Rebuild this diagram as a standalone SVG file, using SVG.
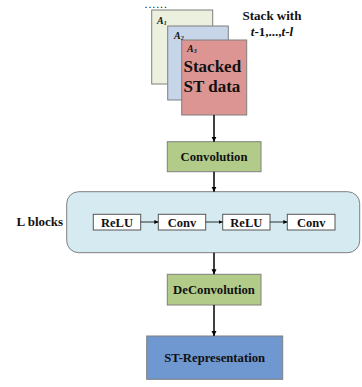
<svg xmlns="http://www.w3.org/2000/svg" width="362" height="387" viewBox="0 0 362 387">
<defs>
<style>
text{font-family:"Liberation Serif","Times New Roman",serif;font-weight:bold;fill:#111;}
.c{text-anchor:middle;}
.box{stroke:#7f7f7f;stroke-width:1;}
.small{fill:#fff;stroke:#555;stroke-width:1;}
.edge{stroke:#000;stroke-width:1.5;fill:none;}
.thin{stroke:#000;stroke-width:0.8;fill:none;}
</style>
<marker id="ah" viewBox="0 0 10 10" refX="10" refY="5" markerWidth="5" markerHeight="6" markerUnits="userSpaceOnUse" orient="auto"><path d="M0,0 L10,5 L0,10 z" fill="#000"/></marker>
<marker id="ahs" viewBox="0 0 10 10" refX="10" refY="5" markerWidth="4" markerHeight="4" markerUnits="userSpaceOnUse" orient="auto"><path d="M0,0 L10,5 L0,10 z" fill="#000"/></marker>
</defs>
<rect width="362" height="387" fill="#fff"/>
<g id="dots"><text x="145" y="7.5" font-size="8" letter-spacing="1.9">......</text></g>
<g id="stack">
<rect x="151.7" y="10" width="61" height="74" fill="#ebf1de" class="box"/>
<text x="157" y="24" font-size="10" font-style="italic">A<tspan font-size="6" dy="1">1</tspan></text>
<rect x="167.7" y="26" width="60.6" height="74" fill="#c6d5e8" class="box"/>
<text x="174" y="39" font-size="10" font-style="italic">A<tspan font-size="6" dy="1">2</tspan></text>
<rect x="181.7" y="40" width="65" height="75" fill="#dc9593" class="box"/>
<text x="187" y="52" font-size="10" font-style="italic">A<tspan font-size="6" dy="1">3</tspan></text>
<text x="183.5" y="72" font-size="17">Stacked</text>
<text x="183.5" y="92" font-size="17">ST data</text>
</g>
<g id="stack-label">
<text x="272" y="20" class="c" font-size="13">Stack with</text>
<text x="272" y="36" class="c" font-size="13"><tspan font-style="italic">t</tspan>-1,...,<tspan font-style="italic">t</tspan>-<tspan font-style="italic">l</tspan></text>
</g>
<g id="convolution">
<rect x="167.3" y="141.7" width="93.7" height="30" fill="#b3cb88" class="box"/>
<text x="214" y="161" class="c" font-size="12.7">Convolution</text>
</g>
<g id="lblocks">
<rect x="66.7" y="191.7" width="293" height="61" rx="12" ry="12" fill="#d6ebf1" class="box"/>
<text x="16.5" y="225.5" font-size="13">L blocks</text>
</g>
<g id="relu1"><rect x="93.3" y="214.3" width="47.4" height="15.7" class="small"/><text x="117" y="226.5" class="c" font-size="12.5">ReLU</text></g>
<g id="conv1"><rect x="158.3" y="214.3" width="47.4" height="15.7" class="small"/><text x="182" y="226.5" class="c" font-size="12.5">Conv</text></g>
<g id="relu2"><rect x="222.7" y="214.3" width="47.3" height="15.7" class="small"/><text x="246.3" y="226.5" class="c" font-size="12.5">ReLU</text></g>
<g id="conv2"><rect x="287.3" y="214.3" width="47.7" height="15.7" class="small"/><text x="311.2" y="226.5" class="c" font-size="12.5">Conv</text></g>
<g id="deconvolution">
<rect x="167.3" y="274.3" width="93.7" height="30.7" fill="#b3cb88" class="box"/>
<text x="214" y="294" class="c" font-size="12.7">DeConvolution</text>
</g>
<g id="st-representation">
<rect x="146.7" y="336" width="136" height="43.3" fill="#6f97d0" class="box"/>
<text x="214.7" y="362" class="c" font-size="12.7">ST-Representation</text>
</g>
<g id="connectors">
<line x1="214" y1="115" x2="214" y2="141.7" class="edge" marker-end="url(#ah)"/>
<line x1="214" y1="171.7" x2="214" y2="191.7" class="edge" marker-end="url(#ah)"/>
<line x1="214" y1="252.7" x2="214" y2="274.3" class="edge" marker-end="url(#ah)"/>
<line x1="214" y1="305" x2="214" y2="336" class="edge" marker-end="url(#ah)"/>
<line x1="140.7" y1="222" x2="158.3" y2="222" class="thin" marker-end="url(#ahs)"/>
<line x1="205.7" y1="222" x2="222.7" y2="222" class="thin" marker-end="url(#ahs)"/>
<line x1="270" y1="222" x2="287.3" y2="222" class="thin" marker-end="url(#ahs)"/>
</g>
</svg>
